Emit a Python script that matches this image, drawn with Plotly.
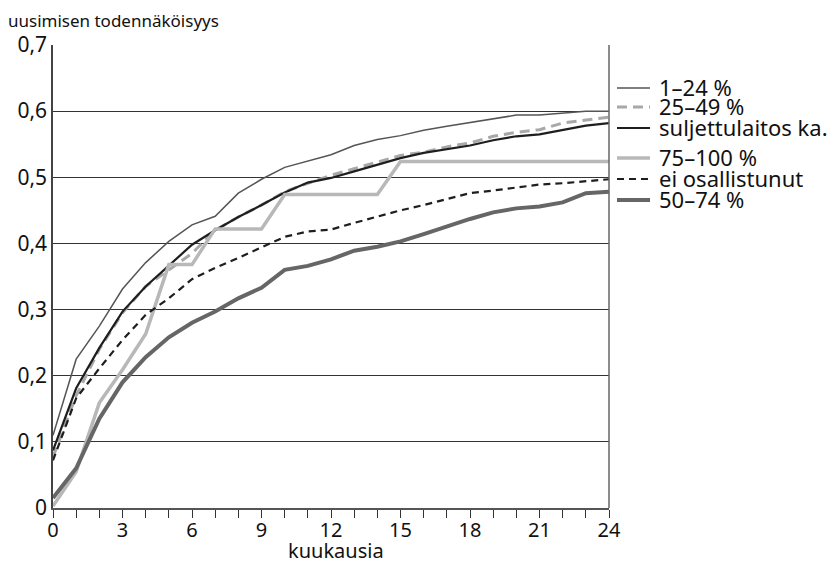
import plotly.graph_objects as go

months = list(range(25))

s_1_24 = [0.11, 0.225, 0.275, 0.331, 0.371, 0.403, 0.428, 0.441, 0.476, 0.497, 0.515, 0.524, 0.534,
          0.548, 0.557, 0.563, 0.571, 0.577, 0.583, 0.588, 0.594, 0.594, 0.597, 0.600, 0.600]
s_25_49 = [0.077, 0.170, 0.240, 0.295, 0.335, 0.360, 0.385, 0.420, 0.440, 0.458, 0.478, 0.491, 0.503,
           0.513, 0.523, 0.533, 0.538, 0.546, 0.552, 0.562, 0.568, 0.572, 0.582, 0.587, 0.591]
s_sulj = [0.087, 0.181, 0.242, 0.297, 0.335, 0.366, 0.398, 0.420, 0.440, 0.458, 0.477, 0.492, 0.499,
          0.509, 0.519, 0.529, 0.537, 0.543, 0.548, 0.556, 0.562, 0.565, 0.572, 0.578, 0.582]
s_75_100 = [0.003, 0.055, 0.159, 0.209, 0.263, 0.368, 0.368, 0.422, 0.422, 0.422, 0.474, 0.474, 0.474,
            0.474, 0.474, 0.524, 0.524, 0.524, 0.524, 0.524, 0.524, 0.524, 0.524, 0.524, 0.524]
s_ei = [0.072, 0.166, 0.211, 0.254, 0.292, 0.317, 0.346, 0.363, 0.378, 0.394, 0.410, 0.418, 0.421,
        0.431, 0.441, 0.450, 0.458, 0.467, 0.476, 0.480, 0.484, 0.489, 0.491, 0.494, 0.497]
s_50_74 = [0.015, 0.060, 0.135, 0.190, 0.228, 0.258, 0.280, 0.297, 0.317, 0.333, 0.360, 0.366, 0.376,
           0.389, 0.395, 0.403, 0.414, 0.426, 0.437, 0.447, 0.453, 0.456, 0.462, 0.476, 0.478]

names = ["1–24 %", "25–49 %", "suljettulaitos ka.", "75–100 %", "ei osallistunut", "50–74 %"]

y_tickvals = [0, 0.1, 0.2, 0.3, 0.4, 0.5, 0.6, 0.7]
y_ticktext = ["0", "0,1", "0,2", "0,3", "0,4", "0,5", "0,6", "0,7"]
x_tickvals = [0, 3, 6, 9, 12, 15, 18, 21, 24]

FONT = "Noto Sans"
OFF = 8  # page body margin in the browser
W, H = 837 - OFF, 564 - OFF
ML, MT = 53 - OFF, 45 - OFF
PW, PH = 556, 463
MR, MB = W - ML - PW, H - MT - PH


def px_to_paper(sx, sy):
    """screen pixel -> paper coords"""
    fx, fy = sx - OFF, sy - OFF
    return (fx - ML) / PW, (MT + PH - fy) / PH


styles = [
    dict(color="#555555", width=1.5, dash="solid"),
    dict(color="#a8a8a8", width=3, dash="10px,6px"),
    dict(color="#1e1e1e", width=2.2, dash="solid"),
    dict(color="#b8b8b8", width=3.5, dash="solid"),
    dict(color="#1e1e1e", width=2.2, dash="7px,5px"),
    dict(color="#666666", width=4, dash="solid"),
]
series = [s_1_24, s_25_49, s_sulj, s_75_100, s_ei, s_50_74]

fig = go.Figure()
for name, ys, st in zip(names, series, styles):
    fig.add_trace(go.Scatter(x=months, y=ys, mode="lines", name=name, line=st, showlegend=False))

# manual legend (layout positions, screen pixels)
legend_rows_sy = [88, 107, 128, 158, 179, 200]
shapes = [dict(type="line", xref="paper", yref="paper", x0=1, x1=1, y0=0, y1=1,
               line=dict(color="#666", width=1.5))]
annotations = []
for name, st, sy in zip(names, styles, legend_rows_sy):
    x0, y0 = px_to_paper(617, sy)
    x1, _ = px_to_paper(650, sy)
    shapes.append(dict(type="line", xref="paper", yref="paper", x0=x0, x1=x1, y0=y0, y1=y0,
                       line=dict(color=st["color"], width=st["width"], dash=st["dash"])))
    tx, ty = px_to_paper(658, sy - 1)
    annotations.append(dict(text=name, xref="paper", yref="paper", x=tx, y=ty, xanchor="left",
                            yanchor="middle", showarrow=False, borderpad=0,
                            font=dict(family=FONT, size=22, color="#111111")))

tx, ty = px_to_paper(7, 8)
annotations.append(dict(text="uusimisen todennäköisyys", xref="paper", yref="paper", x=tx, y=ty,
                        xanchor="left", yanchor="top", showarrow=False, borderpad=0,
                        font=dict(family=FONT, size=17, color="#111111")))
tx, ty = px_to_paper(336, 550)
annotations.append(dict(text="kuukausia", xref="paper", yref="paper", x=tx, y=ty,
                        xanchor="center", yanchor="middle", showarrow=False,
                        font=dict(family=FONT, size=20, color="#111111")))

fig.update_layout(
    width=W, height=H,
    margin=dict(l=ML, r=MR, t=MT, b=MB, autoexpand=False),
    plot_bgcolor="white", paper_bgcolor="white",
    font=dict(family=FONT, size=20, color="#111111"),
    showlegend=False,
    xaxis=dict(range=[0, 24], tickvals=x_tickvals, ticks="outside", ticklen=8, tickcolor="#333",
               showline=True, linecolor="#555", linewidth=1.5, showgrid=False, zeroline=False,
               automargin=False, ticklabelstandoff=-5,
               minor=dict(dtick=1, ticks="outside", ticklen=8, tickcolor="#333", showgrid=False),
               tickfont=dict(size=20)),
    yaxis=dict(range=[0, 0.7], tickvals=y_tickvals, ticktext=y_ticktext, ticks="",
               showline=True, linecolor="#444", linewidth=1.5, showgrid=True, gridcolor="#333",
               gridwidth=1, zeroline=False, automargin=False, tickfont=dict(size=21)),
    annotations=annotations,
    shapes=shapes,
)

fig.write_html("out.html")
